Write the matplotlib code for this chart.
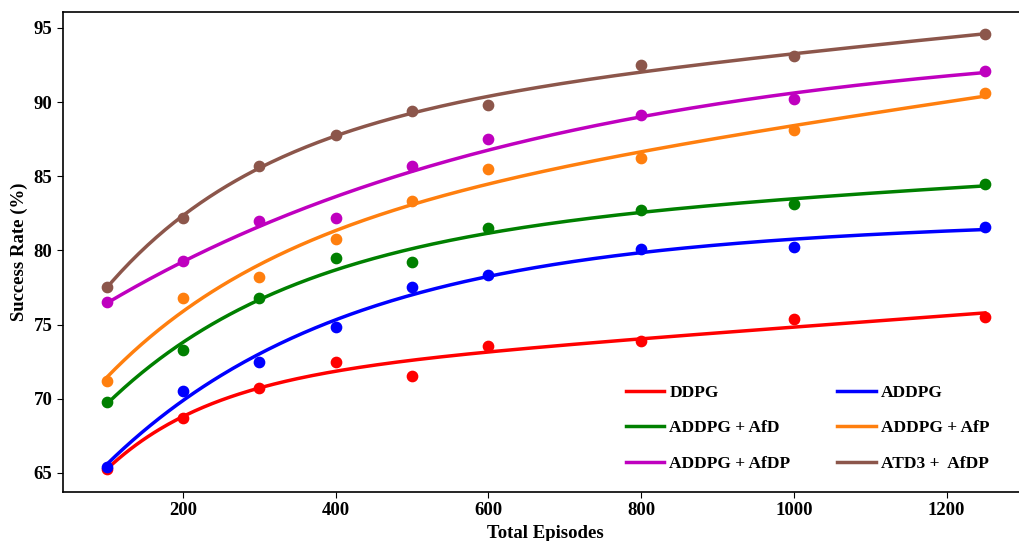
import numpy as np
import matplotlib
matplotlib.use('Agg')
import matplotlib.pyplot as plt

plt.rcParams['font.family'] = ['Liberation Serif', 'DejaVu Serif']
plt.rcParams['font.weight'] = 'bold'

episodes = [100, 200, 300, 400, 500, 600, 800, 1000, 1250]

ddpg = [65.25, 68.7, 70.75, 72.5, 71.5, 73.55, 73.9, 75.35, 75.5]
addpg = [65.4, 70.5, 72.5, 74.85, 77.5, 78.35, 80.1, 80.24, 81.6]
addpg_afd = [69.8, 73.3, 76.8, 79.5, 79.2, 81.5, 82.7, 83.15, 84.5]
addpg_afp = [71.2, 76.8, 78.2, 80.8, 83.3, 85.5, 86.2, 88.1, 90.6]
addpg_afdp = [76.5, 79.3, 82.0, 82.2, 85.7, 87.5, 89.1, 90.2, 92.1]
atd3_afdp = [77.5, 82.2, 85.7, 87.8, 89.4, 89.8, 92.5, 93.1, 94.6]

labels = ['DDPG', 'ADDPG', 'ADDPG + AfD', 'ADDPG + AfP', 'ADDPG + AfDP', 'ATD3 +  AfDP']
colors = ['red', 'blue', 'green', '#ff7f0e', 'm', '#8c564b']
series = [ddpg, addpg, addpg_afd, addpg_afp, addpg_afdp, atd3_afdp]


def trend_fit(x, y, xs):
    # y = a + b*x + c*exp(-x/d), d picked by grid search
    best = None
    for d in np.linspace(80, 600, 261):
        A = np.column_stack([np.ones_like(x), x, np.exp(-x / d)])
        coef = np.linalg.lstsq(A, y, rcond=None)[0]
        sse = np.sum((A @ coef - y) ** 2)
        if best is None or sse < best[0]:
            best = (sse, coef, d)
    _, coef, d = best
    return coef[0] + coef[1] * xs + coef[2] * np.exp(-xs / d)


fig = plt.figure(figsize=(10.19, 5.41), dpi=100)
ax = fig.add_axes([0.0615, 0.0911, 0.9481, 0.8867])

x = np.array(episodes, dtype=float)
xs = np.linspace(x.min(), x.max(), 300)
handles = []
for y, c, lab in zip(series, colors, labels):
    h, = ax.plot(xs, trend_fit(x, np.array(y), xs), color=c, lw=2.5, label=lab, zorder=2)
    handles.append(h)
    ax.scatter(x, y, color=c, s=55, zorder=3)

ax.set_xlim(42.5, 1307.5)
ax.set_ylim(63.73, 96.07)
ax.set_xticks([200, 400, 600, 800, 1000, 1200])
ax.set_yticks([65, 70, 75, 80, 85, 90, 95])
ax.tick_params(labelsize=13.5, length=4)
ax.spines['right'].set_visible(False)
for s in ['left', 'bottom', 'top']:
    ax.spines[s].set_linewidth(1.2)
ax.set_xlabel('Total Episodes', fontsize=13.5, fontweight='bold', labelpad=4)
ax.set_ylabel('Success Rate (%)', fontsize=13.5, fontweight='bold', labelpad=4)

# row-wise order in a 2-column legend
order = [0, 2, 4, 1, 3, 5]
ax.legend([handles[i] for i in order], [labels[i] for i in order],
          ncol=2, frameon=False, loc='lower left', bbox_to_anchor=(0.576, 0.027),
          borderaxespad=0, prop={'size': 12.5, 'weight': 'bold'}, labelspacing=1.12,
          handlelength=2.2, columnspacing=2.7, handletextpad=0.3)

plt.savefig('out.png', dpi=100)
